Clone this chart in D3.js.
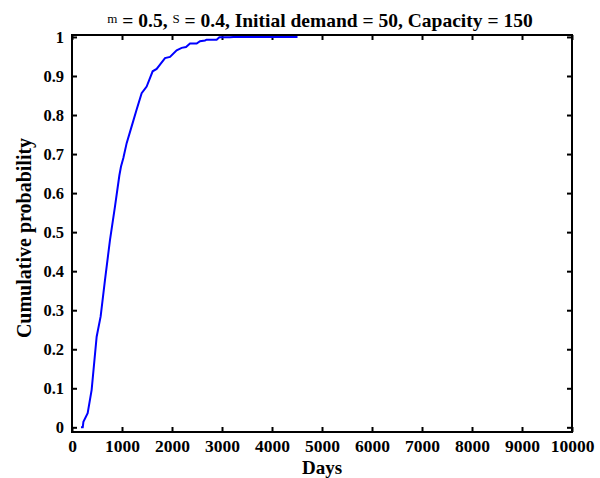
<!DOCTYPE html>
<html>
<head>
<meta charset="utf-8">
<script src="https://cdn.jsdelivr.net/npm/d3@7"></script>
<style>
  body { margin: 0; background: #fff; }
  svg text { font-family: "Liberation Serif", "Times New Roman", serif; font-weight: bold; fill: #000; }
</style>
</head>
<body>
<svg id="chart"></svg>
<script>
const days = [180, 215, 228, 313, 393, 493, 573, 660, 760, 860, 947, 980, 1027, 1093, 1193, 1293, 1393, 1493,
  1613, 1693, 1760, 1860, 1960, 2093, 2193, 2280, 2360, 2493, 2560, 2660, 2693, 2893, 2947, 3160, 3227, 4510];
const prob = [0, 0, 0.014, 0.036, 0.096, 0.232, 0.284, 0.378, 0.48, 0.566, 0.645, 0.668, 0.69, 0.728, 0.771,
  0.814, 0.856, 0.873, 0.912, 0.918, 0.929, 0.946, 0.949, 0.966, 0.972, 0.974, 0.983, 0.983, 0.989, 0.991,
  0.993, 0.993, 0.999, 0.999, 1, 1];
const xTicks = [0, 1000, 2000, 3000, 4000, 5000, 6000, 7000, 8000, 9000, 10000];
const yTicks = [0, 0.1, 0.2, 0.3, 0.4, 0.5, 0.6, 0.7, 0.8, 0.9, 1];

const width = 600, height = 478;
const margin = { top: 35, right: 28, bottom: 46, left: 72 };

const svg = d3.select("#chart").attr("width", width).attr("height", height);

const x = d3.scaleLinear().domain([0, 10000]).range([margin.left, width - margin.right]);
const y = d3.scaleLinear().domain([-0.012, 1.005]).range([height - margin.bottom, margin.top]);

const x0 = margin.left, x1 = width - margin.right;
const y0 = height - margin.bottom, y1 = margin.top;

// inward ticks on all four sides
const tk = 5;
function styleAxis(g, size) {
  g.select(".domain").remove();
  g.selectAll(".tick line").attr("stroke", "#000").attr("stroke-width", 2);
  g.selectAll(".tick text").style("font-size", size || "16px");
}

svg.append("g").attr("transform", `translate(0,${y0})`)
  .call(d3.axisBottom(x).tickValues(xTicks).tickSizeInner(-tk).tickSizeOuter(0).tickPadding(8).tickFormat(d3.format("d")))
  .call(styleAxis, "17.5px");
svg.append("g").attr("transform", `translate(0,${y1})`)
  .call(d3.axisTop(x).tickValues(xTicks).tickSizeInner(-tk).tickSizeOuter(0).tickFormat(""))
  .call(styleAxis);
svg.append("g").attr("transform", `translate(${x0},0)`)
  .call(d3.axisLeft(y).tickValues(yTicks).tickSizeInner(-tk).tickSizeOuter(0).tickPadding(8).tickFormat(d3.format("~g")))
  .call(styleAxis, "16.5px");
svg.append("g").attr("transform", `translate(${x1},0)`)
  .call(d3.axisRight(y).tickValues(yTicks).tickSizeInner(-tk).tickSizeOuter(0).tickFormat(""))
  .call(styleAxis);

// box
svg.append("rect")
  .attr("x", x0).attr("y", y1)
  .attr("width", x1 - x0).attr("height", y0 - y1)
  .attr("fill", "none").attr("stroke", "#000").attr("stroke-width", 2);

// curve
const line = d3.line().x((d, i) => x(days[i])).y((d, i) => y(prob[i]));
svg.append("path")
  .datum(days)
  .attr("d", line)
  .attr("fill", "none")
  .attr("stroke", "#0000ff")
  .attr("stroke-width", 2);

// title
const title = svg.append("text")
  .attr("x", 320)
  .attr("y", 27)
  .attr("text-anchor", "middle")
  .style("font-size", "19.5px");
title.append("tspan").text("m").style("font-size", "13px").style("font-weight", "normal").attr("dy", -4);
title.append("tspan").text(" = 0.5, ").attr("dy", 4);
title.append("tspan").text("S").style("font-size", "13px").style("font-weight", "normal").attr("dy", -4);
title.append("tspan").text(" = 0.4, Initial demand = 50, Capacity = 150").attr("dy", 4);

// axis labels
svg.append("text")
  .attr("x", (x0 + x1) / 2)
  .attr("y", 474)
  .attr("text-anchor", "middle")
  .style("font-size", "19px")
  .text("Days");

svg.append("text")
  .attr("transform", "translate(31,238) rotate(-90)")
  .attr("text-anchor", "middle")
  .style("font-size", "20px")
  .text("Cumulative probability");
</script>
</body>
</html>
